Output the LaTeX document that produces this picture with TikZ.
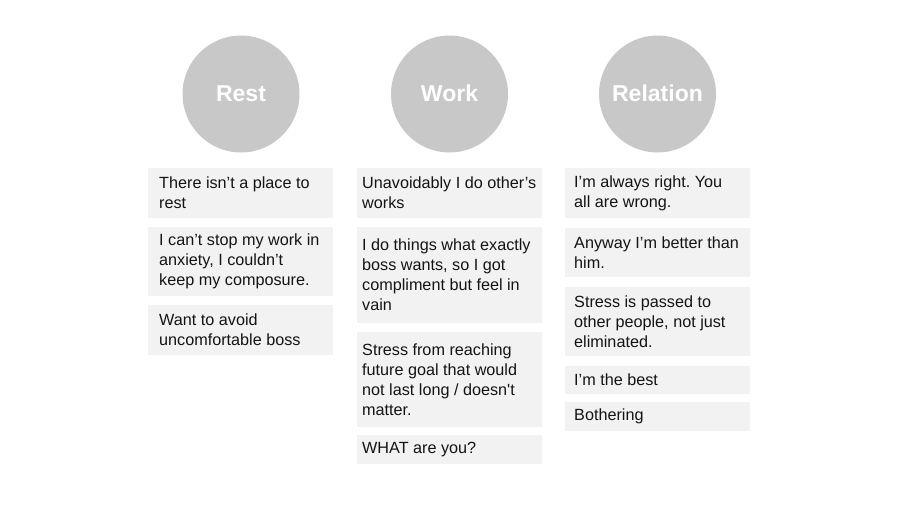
\documentclass[tikz,border=0pt]{standalone}
\usepackage{fontspec}
\setmainfont{Liberation Sans}[Ligatures=TeXOff]
\definecolor{circgray}{RGB}{200,200,200}
\definecolor{boxgray}{RGB}{242,242,242}
\definecolor{txt}{RGB}{20,20,20}
\tikzset{
  head/.style={circle, fill=circgray, minimum size=117pt, inner sep=0pt},
  headtext/.style={anchor=base, inner sep=0pt, text=white, font=\fontsize{23}{26}\selectfont\bfseries},
  cardbox/.style={anchor=north west, fill=boxgray, rectangle, minimum width=185pt, inner sep=0pt},
  cardtext/.style={anchor=west, inner sep=0pt, align=left, text=txt, font=\fontsize{16.2}{20}\selectfont},
}
\newcommand\mkcard[6]{%
  \node[cardbox, minimum height=#4pt] (#1) at (#2,#3) {};
  \node[cardtext] (#1t) at ([xshift=#5pt]#1.west) {#6};
}
\begin{document}
\frenchspacing
\begin{tikzpicture}[x=1pt,y=-1pt]
\useasboundingbox[fill=white] (0,0) rectangle (900,506);
\node[head] (rest) at (241,94) {};
\node[head] (work) at (449.5,94) {};
\node[head] (rel) at (657.5,94) {};
\node[headtext] (restt) at (241,101) {Rest};
\node[headtext] (workt) at (449.5,101) {Work};
\node[headtext] (relt) at (657.5,101) {Relation};
% column 1
\mkcard{r1}{148}{168}{50}{11}{There isn’t a place to\\rest}
\mkcard{r2}{148}{227}{69}{11}{I can’t stop my work in\\anxiety, I couldn’t\\keep my composure.}
\mkcard{r3}{148}{305}{50}{11}{Want to avoid\\uncomfortable boss}
% column 2
\mkcard{w1}{357}{168}{50}{5}{Unavoidably I do other’s\\works}
\mkcard{w2}{357}{227}{96}{5}{I do things what exactly\\boss wants, so I got\\compliment but feel in\\vain}
\mkcard{w3}{357}{332}{95}{5}{Stress from reaching\\future goal that would\\not last long / doesn't\\matter.}
\mkcard{w4}{357}{435}{29}{5}{WHAT are you?}
% column 3
\mkcard{l1}{565}{168}{50}{9}{I’m always right. You\\all are wrong.}
\mkcard{l2}{565}{228}{49}{9}{Anyway I’m better than\\him.}
\mkcard{l3}{565}{287}{69}{9}{Stress is passed to\\other people, not just\\eliminated.}
\mkcard{l4}{565}{366}{28}{9}{I’m the best}
\mkcard{l5}{565}{402}{29}{9}{Bothering}
\end{tikzpicture}
\end{document}
